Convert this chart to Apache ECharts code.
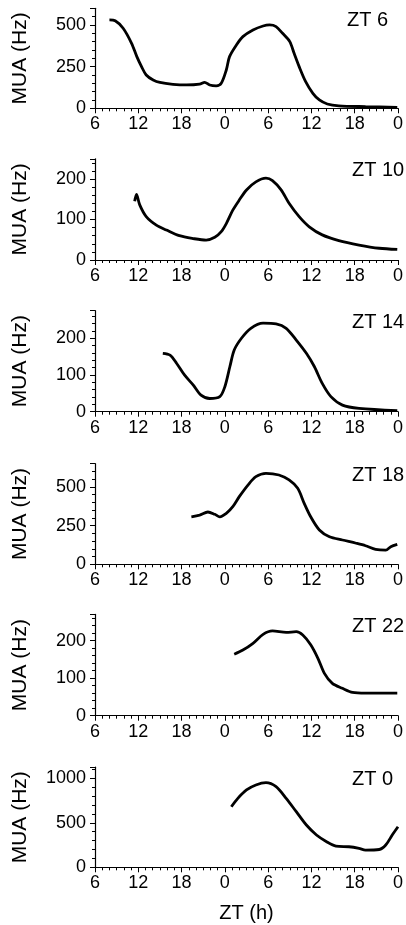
<!DOCTYPE html>
<html><head><meta charset="utf-8">
<script src="https://cdn.jsdelivr.net/npm/echarts@6/dist/echarts.min.js"></script>
<style>html,body{margin:0;padding:0;background:#fff}#c{width:406px;height:925px}</style>
</head><body><div id="c"></div>
<script>
// x axis: hours from ZT 6 of day 1 to ZT 0 (=48) of day 3
const xTickLabels = ['6', '12', '18', '0', '6', '12', '18', '0'];
const panelLabels = ['ZT 6', 'ZT 10', 'ZT 14', 'ZT 18', 'ZT 22', 'ZT 0'];
const yMaxes = [600, 250, 275, 650, 270, 1125];
const yIntervals = [250, 100, 100, 250, 100, 500];

// [hour, MUA Hz]
const zt6Trace = [[8.0,530],[8.8,525],[9.9,480],[11.07,390],[11.8,310],[12.45,250],[13.1,200],[14.06,170],[15.0,155],[16.8,144],[18.7,140],[20.5,145],[21.2,156],[21.9,140],[22.8,135],[23.5,150],[24.2,230],[24.65,310],[25.6,380],[26.5,430],[27.9,470],[29.3,494],[30.2,500],[31.1,490],[32.0,450],[33.0,400],[33.6,330],[34.3,250],[35.2,160],[36.2,90],[37.1,50],[38.2,26],[39.8,15],[43.5,10],[47.9,6]];
const zt10Trace = [[11.5,145],[11.75,162],[12.2,136],[13.1,107],[14.5,86],[15.9,74],[17.7,60],[19.6,53],[21.4,49],[22.6,56],[23.5,70],[24.2,90],[25.1,123],[26.0,148],[27.0,173],[28.3,193],[29.7,202],[30.6,196],[31.8,173],[32.9,140],[34.3,107],[35.7,82],[37.5,62],[39.8,48],[42.6,37],[45.4,29],[47.9,26]];
const zt14Trace = [[15.4,159],[16.4,154],[17.3,132],[18.4,100],[19.6,73],[20.7,45],[21.9,36],[23.3,41],[24.0,68],[24.7,123],[25.3,168],[26.3,200],[27.6,227],[29.3,241],[31.1,239],[32.5,227],[33.9,195],[35.3,159],[36.4,123],[37.5,77],[38.7,41],[40.3,18],[42.6,9],[47.9,3]];
const zt18Trace = [[19.36,307],[20.5,318],[21.65,338],[22.6,323],[23.3,307],[24.2,329],[25.1,372],[26.0,437],[27.2,512],[28.3,566],[29.7,588],[31.5,577],[32.9,545],[34.1,491],[35.0,394],[35.9,307],[37.1,222],[38.5,178],[40.3,157],[42.2,136],[43.5,120],[44.9,97],[46.3,92],[47.0,114],[47.9,129]];
const zt22Trace = [[25.3,164],[26.5,175],[27.9,193],[29.3,217],[30.6,226],[32.5,222],[33.9,224],[34.8,215],[35.9,189],[36.9,153],[37.8,113],[38.9,86],[40.3,73],[41.7,62],[43.5,60],[45.8,60],[47.9,60]];
const zt0Trace = [[24.9,681],[25.8,775],[27.0,869],[28.3,925],[29.7,951],[31.1,906],[32.5,775],[33.9,625],[35.3,475],[36.7,363],[38.1,288],[39.4,239],[41.2,231],[42.6,213],[43.5,194],[45.4,200],[46.3,250],[47.2,363],[48.0,456]];
const traces = [zt6Trace, zt10Trace, zt14Trace, zt18Trace, zt22Trace, zt0Trace];

// layout
const FONT = "'Liberation Sans', Arial, sans-serif";
const gridTops = [8.3, 158.75, 310.7, 463.7, 614.45, 767.2];
const gridBottoms = [108.3, 260, 411.7, 564.3, 715.7, 867.3];
const labelLefts = [347, 352, 352, 352, 352, 352];

const grids = [], xAxes = [], yAxes = [], series = [], titles = [];
traces.forEach((tr, i) => {
  grids.push({ left: 95, right: 7, top: gridTops[i], height: gridBottoms[i] - gridTops[i] });
  xAxes.push({
    type: 'value', gridIndex: i, min: 6, max: 48, interval: 6,
    axisLine: { lineStyle: { color: '#000', width: 1.2 } },
    axisTick: { length: 5, lineStyle: { color: '#000', width: 1 } },
    minorTick: { show: true, splitNumber: 6, length: 3, lineStyle: { color: '#000', width: 1 } },
    splitLine: { show: false },
    axisLabel: { color: '#000', fontSize: 18, fontFamily: FONT, margin: 7,
      formatter: v => xTickLabels[Math.round((v - 6) / 6)] },
    name: i === traces.length - 1 ? 'ZT (h)' : '',
    nameLocation: 'middle', nameGap: 36,
    nameTextStyle: { color: '#000', fontSize: 20, fontFamily: FONT }
  });
  yAxes.push({
    type: 'value', gridIndex: i, min: 0, max: yMaxes[i], interval: yIntervals[i],
    axisLine: { show: true, lineStyle: { color: '#000', width: 1.2 } },
    axisTick: { show: true, length: 5, lineStyle: { color: '#000', width: 1 } },
    minorTick: { show: true, splitNumber: 5, length: 3, lineStyle: { color: '#000', width: 1 } },
    splitLine: { show: false },
    axisLabel: { color: '#000', fontSize: 18, fontFamily: FONT, margin: 9,
      showMaxLabel: false, formatter: v => String(v) },
    name: 'MUA (Hz)', nameLocation: 'middle', nameGap: 64,
    nameTextStyle: { color: '#000', fontSize: 21, fontFamily: FONT }
  });
  series.push({
    type: 'line', xAxisIndex: i, yAxisIndex: i, data: tr,
    showSymbol: false, smooth: 0.3,
    lineStyle: { color: '#000', width: 2.8 }
  });
  titles.push({
    text: panelLabels[i], left: labelLefts[i], top: gridTops[i] + 2, padding: 0,
    textStyle: { color: '#000', fontSize: 20, fontWeight: 'normal', fontFamily: FONT }
  });
});

const chart = echarts.init(document.getElementById('c'), null, { renderer: 'canvas' });
chart.setOption({
  backgroundColor: '#fff',
  animation: false,
  title: titles,
  grid: grids,
  xAxis: xAxes,
  yAxis: yAxes,
  series: series
});
</script>
</body></html>
